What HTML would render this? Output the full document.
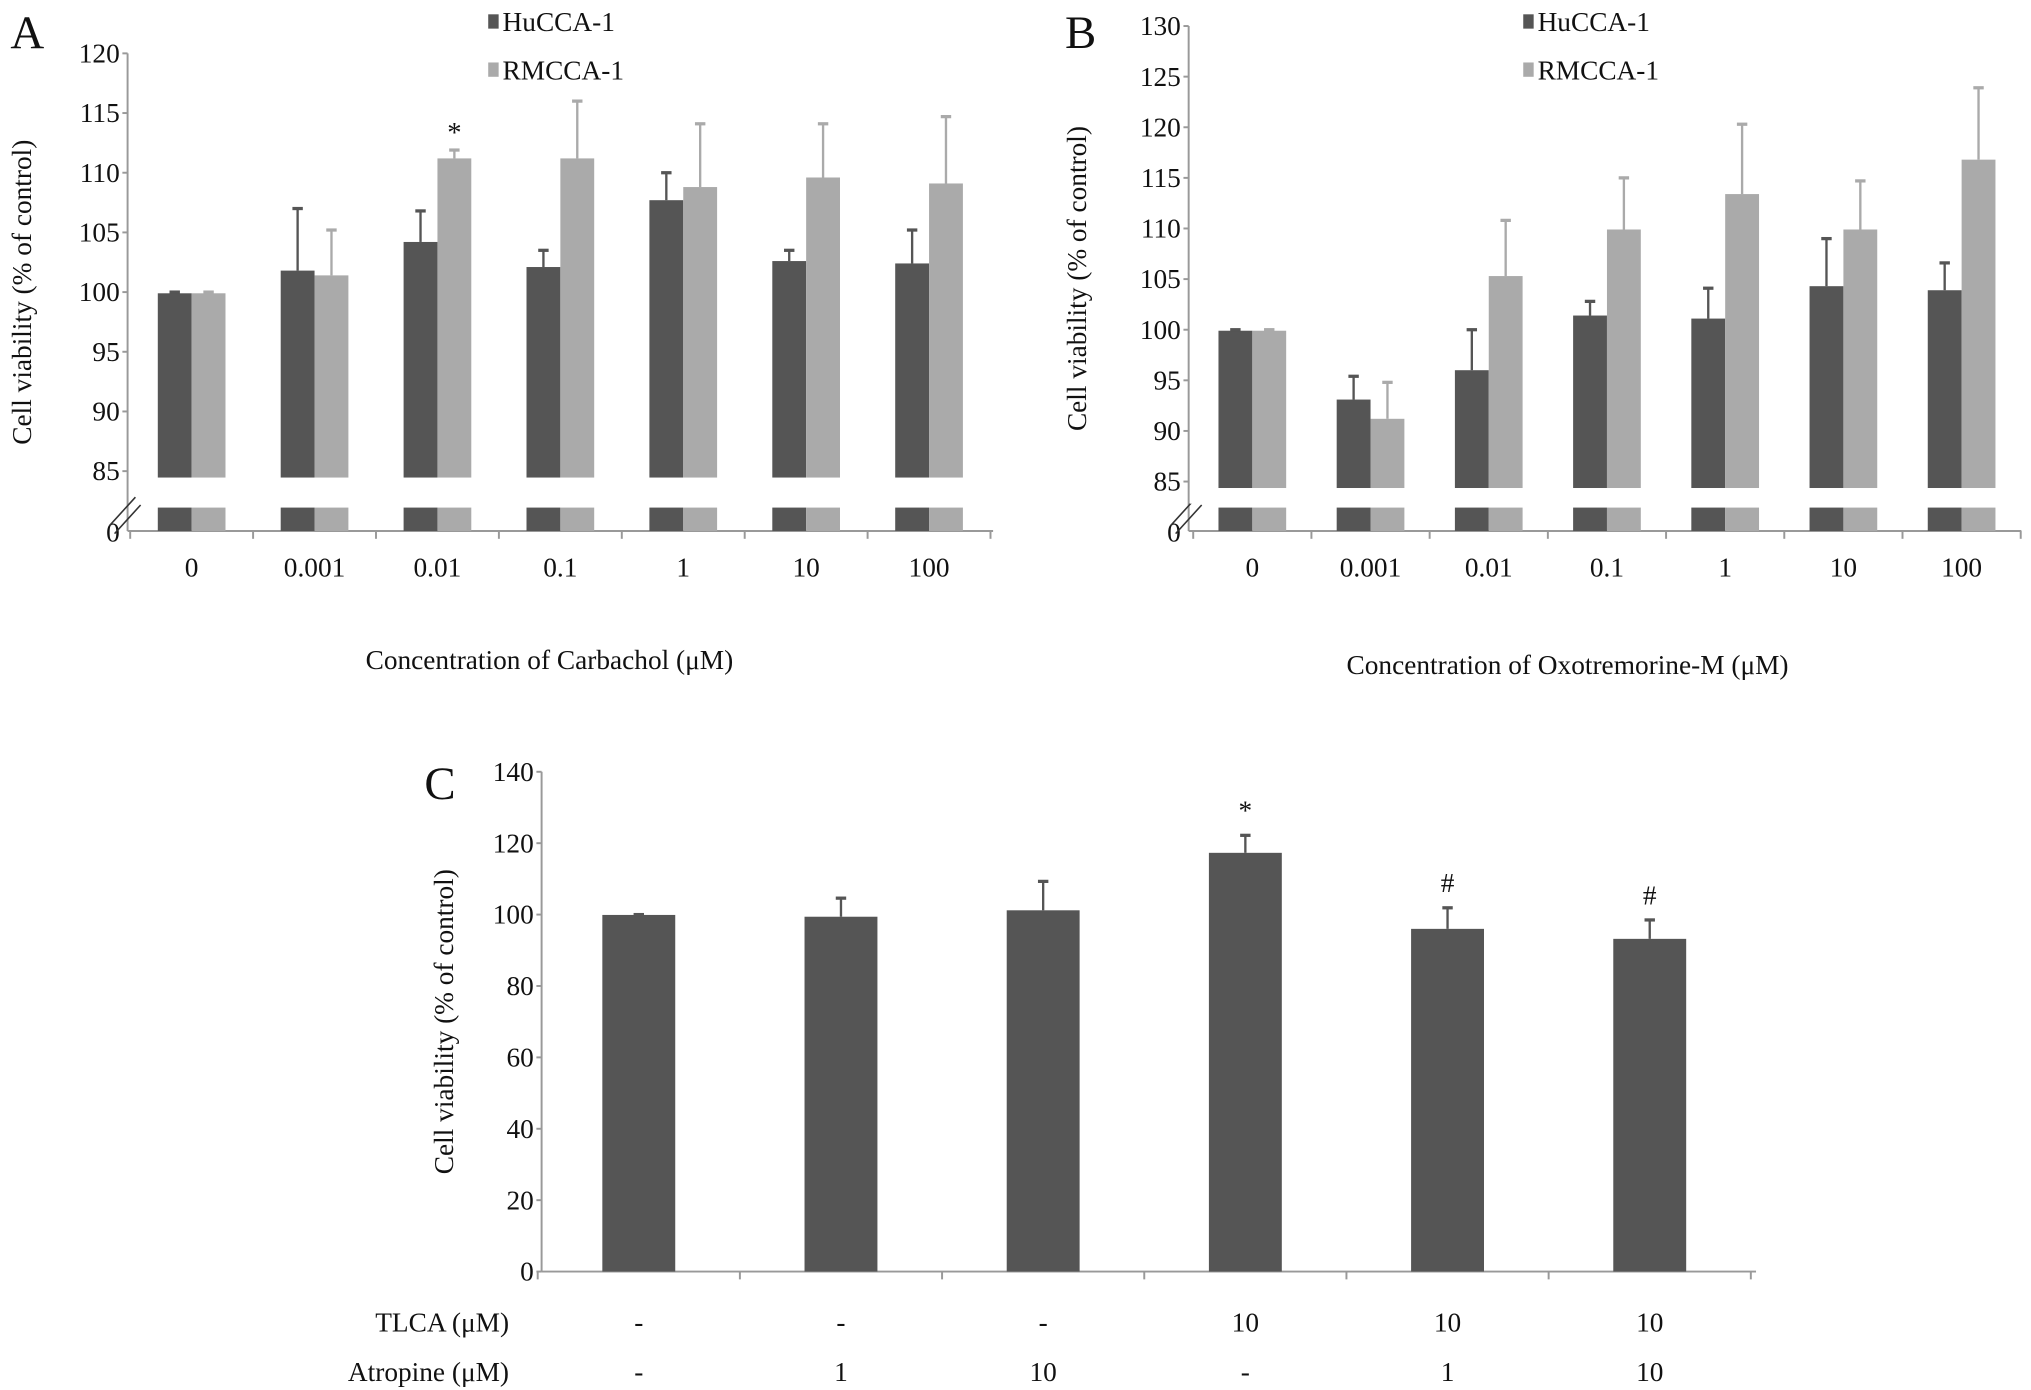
<!DOCTYPE html>
<html><head><meta charset="utf-8"><style>
html,body{margin:0;padding:0;background:#fff}
svg{display:block;font-family:"Liberation Serif","DejaVu Serif",serif}
text{font-family:"Liberation Serif","DejaVu Serif",serif;fill:#111}
</style></head><body>
<svg id="fig" width="2031" height="1390" viewBox="0 0 1560 1068" preserveAspectRatio="none" xmlns="http://www.w3.org/2000/svg" font-family="Liberation Serif, DejaVu Serif, serif"></svg>
<script>
const catsA=["0","0.001","0.01","0.1","1","10","100"];
const huA=[99.9,101.8,104.2,102.1,107.7,102.6,102.4];
const huAErr=[100.0,107.0,106.8,103.5,110.0,103.5,105.2];
const rmA=[99.9,101.4,111.2,111.2,108.8,109.6,109.1];
const rmAErr=[100.0,105.2,111.9,116.0,114.1,114.1,114.7];
const ticksA=[85,90,95,100,105,110,115,120];
const catsB=["0","0.001","0.01","0.1","1","10","100"];
const huB=[99.9,93.1,96.0,101.4,101.1,104.3,103.9];
const huBErr=[100.0,95.4,100.0,102.8,104.1,109.0,106.6];
const rmB=[99.9,91.2,105.3,109.9,113.4,109.9,116.8];
const rmBErr=[100.0,94.8,110.8,115.0,120.3,114.7,123.9];
const ticksB=[85,90,95,100,105,110,115,120,125,130];
const valsC=[99.9,99.4,101.2,117.3,96.0,93.2];
const errC=[100.0,104.6,109.3,122.2,101.9,98.5];
const marksC=["","","","*","#","#"];
const tlcaC=["-","-","-","10","10","10"];
const atroC=["-","1","10","-","1","10"];
const ticksC=[0,20,40,60,80,100,120,140];

const NS="http://www.w3.org/2000/svg";
const svg=document.getElementById('fig');
const FF='"Liberation Serif","DejaVu Serif",serif';
const FS=21;
function el(tag,attrs,parent){const e=document.createElementNS(NS,tag);for(const k in attrs)e.setAttribute(k,attrs[k]);(parent||svg).appendChild(e);return e;}
function txt(s,x,y,size,anchor,parent){const t=el('text',{x:x,y:y,'font-size':size,'text-anchor':anchor||'middle','font-family':FF},parent);t.style.fontFamily=FF;t.textContent=s;return t;}
const DARK="#555555",LIGHT="#aaaaaa",AX="#999";

function brokenPanel(o){
  const g=el('g',{});
  
  
  const y=v=>o.yTop+(o.max-v)*(o.yBreak-o.yTop)/(o.max-o.min);
  const cx=i=>o.x0+o.step*(i+0.5);
  el('line',{x1:o.axX,y1:o.yTop,x2:o.axX,y2:o.yZero,stroke:AX,'stroke-width':1.5},g);
  el('line',{x1:o.axX,y1:o.yZero,x2:o.axX+o.step*o.cats.length+4,y2:o.yZero,stroke:AX,'stroke-width':1.5},g);
  for(let i=0;i<=o.cats.length;i++){const xx=o.x0+o.step*i;el('line',{x1:xx,y1:o.yZero,x2:xx,y2:o.yZero+6,stroke:AX,'stroke-width':1.5},g);}
  o.ticks.forEach(v=>{const yy=y(v);el('line',{x1:o.axX-4,y1:yy,x2:o.axX,y2:yy,stroke:AX,'stroke-width':1.5},g);
    const t=txt(String(v),o.axX-6,yy+7,FS,'end',g);});
  const t0=txt("0",o.axX-6,o.yZero+8,FS,'end',g);
  el('line',{x1:o.axX-14,y1:o.yZero-4,x2:o.axX+6,y2:o.yZero-26,stroke:'#333','stroke-width':1.2},g);
  el('line',{x1:o.axX-10,y1:o.yZero+2,x2:o.axX+10,y2:o.yZero-20,stroke:'#333','stroke-width':1.2},g);
  const bw=26;
  [[o.hu,o.huErr,DARK,-bw,'hucca'],[o.rm,o.rmErr,LIGHT,0,'rmcca']].forEach(([vals,errs,col,off,nm])=>{
    vals.forEach((v,i)=>{
      const bx=cx(i)+off;
      const r=el('rect',{x:bx,y:y(v),width:bw,height:o.yBreak+5-y(v),fill:col},g);
      
      const s=el('rect',{x:bx,y:o.yZero-18,width:bw,height:18,fill:col},g);
      
      const ex=bx+bw/2;
      const e=el('line',{x1:ex,y1:y(v),x2:ex,y2:y(errs[i]),stroke:col,'stroke-width':1.8},g);
      
      el('line',{x1:ex-4,y1:y(errs[i]),x2:ex+4,y2:y(errs[i]),stroke:col,'stroke-width':2.5},g);
    });
  });
  el('rect',{x:o.axX+1,y:o.yBreak+5,width:o.step*o.cats.length,height:12,fill:'#fff'},g);
  o.cats.forEach((c,i)=>{const t=txt(c,cx(i),o.yZero+35,FS,'middle',g);});
  if(o.star!=null){const t=txt('*',cx(o.star)+bw/2,y(o.rmErr[o.star])-6,22,'middle',g);}
  const yt=txt('Cell viability (% of control)',0,0,FS,'middle',g);
  yt.setAttribute('transform','translate('+o.ytX+','+(o.yTop+o.yZero)/2+') rotate(-90)');
  
  const xt=txt(o.xTitle,o.xtX,o.xtY,FS,'middle',g);
  const pl=txt(o.letter,o.lX,37,36,'start',g);
  [[DARK,'HuCCA-1',18],[LIGHT,'RMCCA-1',55]].forEach(([c,l,ly])=>{
    const lg=el('g',{},g);
    el('rect',{x:o.legX,y:ly-7,width:8,height:11,fill:c},lg);
    txt(l,o.legX+11,ly+6,FS,'start',lg);
  });
}
brokenPanel({name:'panel-a',cats:catsA,hu:huA,huErr:huAErr,rm:rmA,rmErr:rmAErr,ticks:ticksA,min:85,max:120,
  axX:98,yTop:41,yBreak:362,yZero:408,x0:100,step:94.4,ytX:24,xTitle:'Concentration of Carbachol (μM)',xtX:422,xtY:514,letter:'A',lX:8,legX:375,star:2});
brokenPanel({name:'panel-b',cats:catsB,hu:huB,huErr:huBErr,rm:rmB,rmErr:rmBErr,ticks:ticksB,min:85,max:130,
  axX:913,yTop:20,yBreak:370,yZero:408,x0:916.5,step:90.8,ytX:834,xTitle:'Concentration of Oxotremorine-M (μM)',xtX:1204,xtY:518,letter:'B',lX:818,legX:1170,star:null});

(function(){
  const g=el('g',{});
  const axX=416,yTop=593,y0=977,x0=413,step=155.3,bw=56;
  const y=v=>y0-(v/140)*(y0-yTop);
  const cx=i=>x0+step*(i+0.5);
  el('line',{x1:axX,y1:yTop,x2:axX,y2:y0,stroke:AX,'stroke-width':1.5},g);
  el('line',{x1:axX,y1:y0,x2:x0+step*6+4,y2:y0,stroke:AX,'stroke-width':1.5},g);
  for(let i=0;i<=6;i++){const xx=x0+step*i;el('line',{x1:xx,y1:y0,x2:xx,y2:y0+6,stroke:AX,'stroke-width':1.5},g);}
  ticksC.forEach(v=>{const yy=y(v);el('line',{x1:axX-4,y1:yy,x2:axX,y2:yy,stroke:AX,'stroke-width':1.5},g);
    const t=txt(String(v),axX-6,yy+7,FS,'end',g);});
  valsC.forEach((v,i)=>{
    const bx=cx(i)-bw/2;
    const r=el('rect',{x:bx,y:y(v),width:bw,height:y0-y(v),fill:DARK},g);
    
    const e=el('line',{x1:cx(i),y1:y(v),x2:cx(i),y2:y(errC[i]),stroke:DARK,'stroke-width':1.8},g);
    
    el('line',{x1:cx(i)-4,y1:y(errC[i]),x2:cx(i)+4,y2:y(errC[i]),stroke:DARK,'stroke-width':2.5},g);
    if(marksC[i]){const t=txt(marksC[i],cx(i),y(errC[i])-12,FS,'middle',g);}
    const a=txt(tlcaC[i],cx(i),1023,FS,'middle',g);
    const b=txt(atroC[i],cx(i),1061,FS,'middle',g);
  });
  const l1=txt('TLCA (μM)',391,1023,FS,'end',g);
  const l2=txt('Atropine (μM)',391,1061,FS,'end',g);
  const yt=txt('Cell viability (% of control)',0,0,FS,'middle',g);
  yt.setAttribute('transform','translate(348,'+(yTop+y0)/2+') rotate(-90)');
  
  const pl=txt('C',326,614,36,'start',g);
})();
</script>
</body></html>
